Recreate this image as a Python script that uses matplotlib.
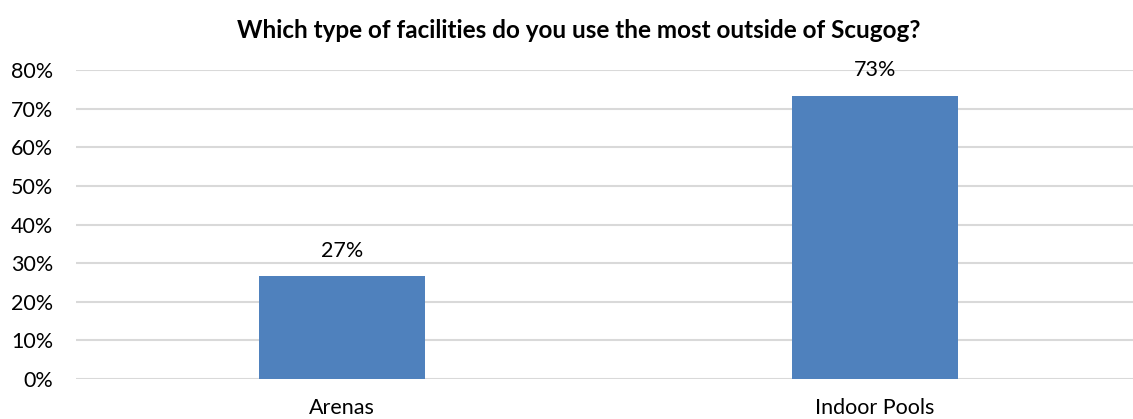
import matplotlib.pyplot as plt
import numpy as np
from matplotlib.ticker import PercentFormatter

# survey answers
categories = ['Arenas', 'Indoor Pools']
shares = [0.266, 0.734]
title = 'Which type of facilities do you use the most outside of Scugog?'

plt.rcParams['font.family'] = ['Lato', 'DejaVu Sans']

fig = plt.figure(figsize=(11.33, 4.19), dpi=100)
ax = fig.add_axes([75.5 / 1133, 1 - 379 / 419, 1066 / 1133, 308.8 / 419])

x = np.arange(len(categories))
bars = ax.bar(x, shares, width=0.313, color='#4F81BD', zorder=3)
for b, v in zip(bars, shares):
    ax.text(b.get_x() + b.get_width() / 2, v + 0.066, f'{v:.0%}',
            ha='center', va='center', fontsize=15.5, color='#000000')

ax.set_xlim(-0.5, len(categories) - 0.5)
ax.set_ylim(0, 0.8)
ax.set_yticks(np.arange(0, 0.81, 0.1))
ax.yaxis.set_major_formatter(PercentFormatter(1.0, decimals=0))
ax.set_xticks(x)
ax.set_xticklabels(categories)
ax.tick_params(axis='y', length=0, pad=16, labelsize=15.5)
ax.tick_params(axis='x', length=0, pad=14, labelsize=15.5)
ax.grid(axis='y', color='#D9D9D9', linewidth=1.5, zorder=0)
for s in ax.spines.values():
    s.set_visible(False)

fig.text(0.511, 0.928, title, ha='center', va='center',
         fontsize=17.5, fontweight='bold')

fig.savefig('out.png', dpi=100)
